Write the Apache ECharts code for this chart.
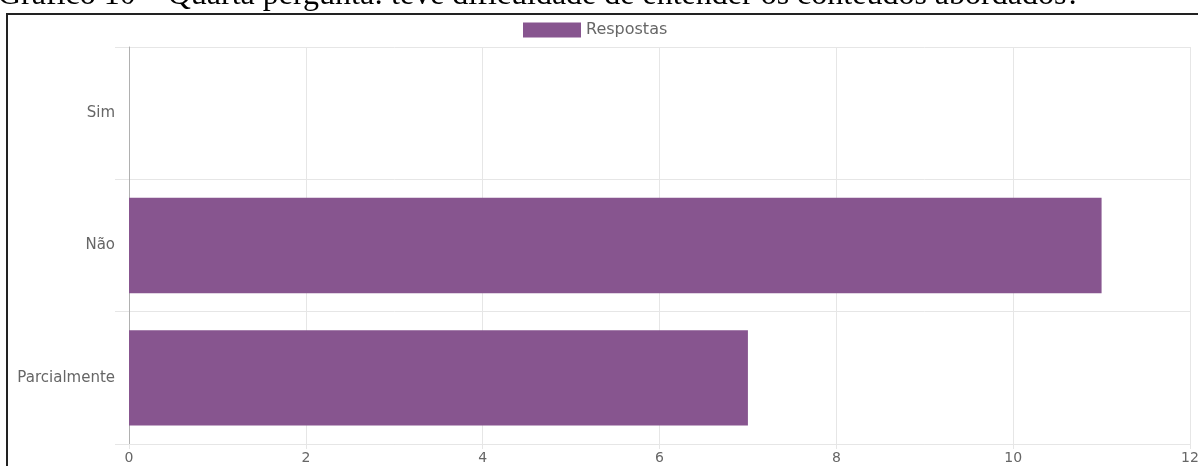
<!DOCTYPE html>
<html>
<head>
<meta charset="utf-8">
<script src="https://cdn.jsdelivr.net/npm/echarts@6/dist/echarts.min.js"></script>
<style>
  html, body { margin: 0; padding: 0; background: #fff; }
  #chart { width: 1198px; height: 466px; }
</style>
</head>
<body>
<div id="chart"></div>
<script>
const categories = ['Sim', 'Não', 'Parcialmente']
const respostas = [0, 11, 7]
const seriesName = 'Respostas'
const titleText = 'Gráfico 10 – Quarta pergunta: teve dificuldade de entender os conteúdos abordados?'

const labelFont = 'DejaVu Sans'
const gridColor = '#e6e6e6'

const chart = echarts.init(document.getElementById('chart'), null, { renderer: 'canvas' })

chart.setOption({
  animation: false,
  title: {
    text: titleText,
    left: -2,
    top: -20,
    padding: 0,
    textStyle: {
      fontFamily: 'Liberation Serif',
      fontSize: 32,
      fontWeight: 'normal',
      color: '#000'
    }
  },
  graphic: [
    {
      type: 'rect',
      shape: { x: 7, y: 14, width: 1400, height: 600 },
      style: { fill: 'none', stroke: '#222', lineWidth: 2 },
      silent: true
    }
  ],
  legend: {
    data: [seriesName],
    left: 523,
    top: 22,
    padding: 0,
    icon: 'rect',
    itemWidth: 58,
    itemHeight: 15,
    itemGap: 6,
    textStyle: { fontFamily: labelFont, fontSize: 16, color: '#666' }
  },
  grid: {
    left: 129,
    right: 8,
    top: 47,
    bottom: 22,
    containLabel: false,
    outerBoundsMode: 'none'
  },
  xAxis: {
    type: 'value',
    min: 0,
    max: 12,
    interval: 2,
    axisLine: { show: true, lineStyle: { color: gridColor } },
    axisTick: { show: true, length: 5, lineStyle: { color: gridColor } },
    axisLabel: { fontFamily: labelFont, fontSize: 14, color: '#666', margin: 7 },
    splitLine: { show: true, lineStyle: { color: gridColor } }
  },
  yAxis: {
    type: 'category',
    data: categories,
    inverse: true,
    axisLine: { show: true, lineStyle: { color: '#b0b0b0' } },
    axisTick: { show: true, length: 14, lineStyle: { color: gridColor } },
    axisLabel: { fontFamily: labelFont, fontSize: 15, color: '#666', margin: 14 },
    splitLine: { show: true, lineStyle: { color: gridColor } }
  },
  series: [
    {
      name: seriesName,
      type: 'bar',
      data: respostas,
      barWidth: '72%',
      itemStyle: {
        color: '#87558f',
        borderWidth: 0
      }
    }
  ]
})
</script>
</body>
</html>
